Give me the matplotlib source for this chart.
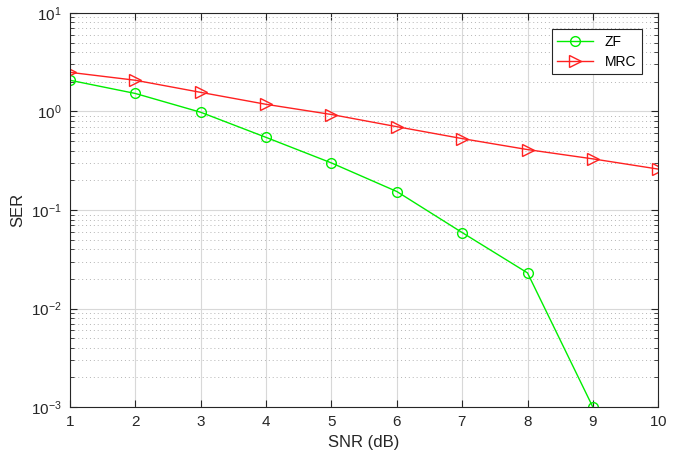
import matplotlib.pyplot as plt
from matplotlib.ticker import LogLocator, NullFormatter

plt.rcParams['font.family'] = ['Liberation Sans', 'DejaVu Sans']
plt.rcParams['axes.formatter.use_mathtext'] = True

# Data
snr = [1, 2, 3, 4, 5, 6, 7, 8, 9, 10]
snr_zf = [1, 2, 3, 4, 5, 6, 7, 8, 9]
ser_zf = [2.07, 1.52, 0.98, 0.545, 0.30, 0.154, 0.059, 0.023, 0.001]
ser_mrc = [2.49, 2.07, 1.56, 1.18, 0.93, 0.70, 0.53, 0.41, 0.33, 0.26]

fig = plt.figure(figsize=(6.8, 4.58), dpi=100)
ax = fig.add_axes([0.103, 0.111, 0.865, 0.861])

ax.semilogy(snr_zf, ser_zf, color='#00ee00', marker='o', markersize=7,
            markerfacecolor='none', linewidth=1, label='ZF')
ax.semilogy(snr, ser_mrc, color='#ff2020', marker='>', markersize=8,
            markerfacecolor='none', linewidth=1, label='MRC')

ax.set_xlim(1, 10)
ax.set_ylim(1e-3, 1e1)
ax.set_xticks(snr)
ax.yaxis.set_major_locator(LogLocator(base=10, numticks=10))
ax.yaxis.set_minor_locator(LogLocator(base=10, subs=range(2, 10), numticks=20))
ax.yaxis.set_minor_formatter(NullFormatter())

# MATLAB style grid and ticks
ax.grid(True, which='major', color='#d8d8d8', linewidth=0.8, linestyle='-')
ax.grid(True, which='minor', axis='y', color='#b4b4b4', linewidth=0.7, linestyle=(0, (1, 3)))
ax.set_axisbelow(True)
ax.tick_params(which='both', direction='in', top=True, right=True,
               colors='#262626', labelsize=11)
ax.tick_params(which='major', length=5, pad=6)
ax.tick_params(which='minor', length=3)
for sp in ax.spines.values():
    sp.set_color('#262626')
    sp.set_linewidth(0.8)

ax.set_xlabel('SNR (dB)', fontsize=12, color='#262626', labelpad=4)
ax.set_ylabel('SER', fontsize=12, color='#262626')

leg = ax.legend(loc='upper right', fancybox=False, edgecolor='#262626',
                framealpha=1, fontsize=10, borderaxespad=1.2,
                handlelength=2.6, labelspacing=0.4)
leg.get_frame().set_linewidth(0.8)

fig.savefig('out.png', dpi=100)
